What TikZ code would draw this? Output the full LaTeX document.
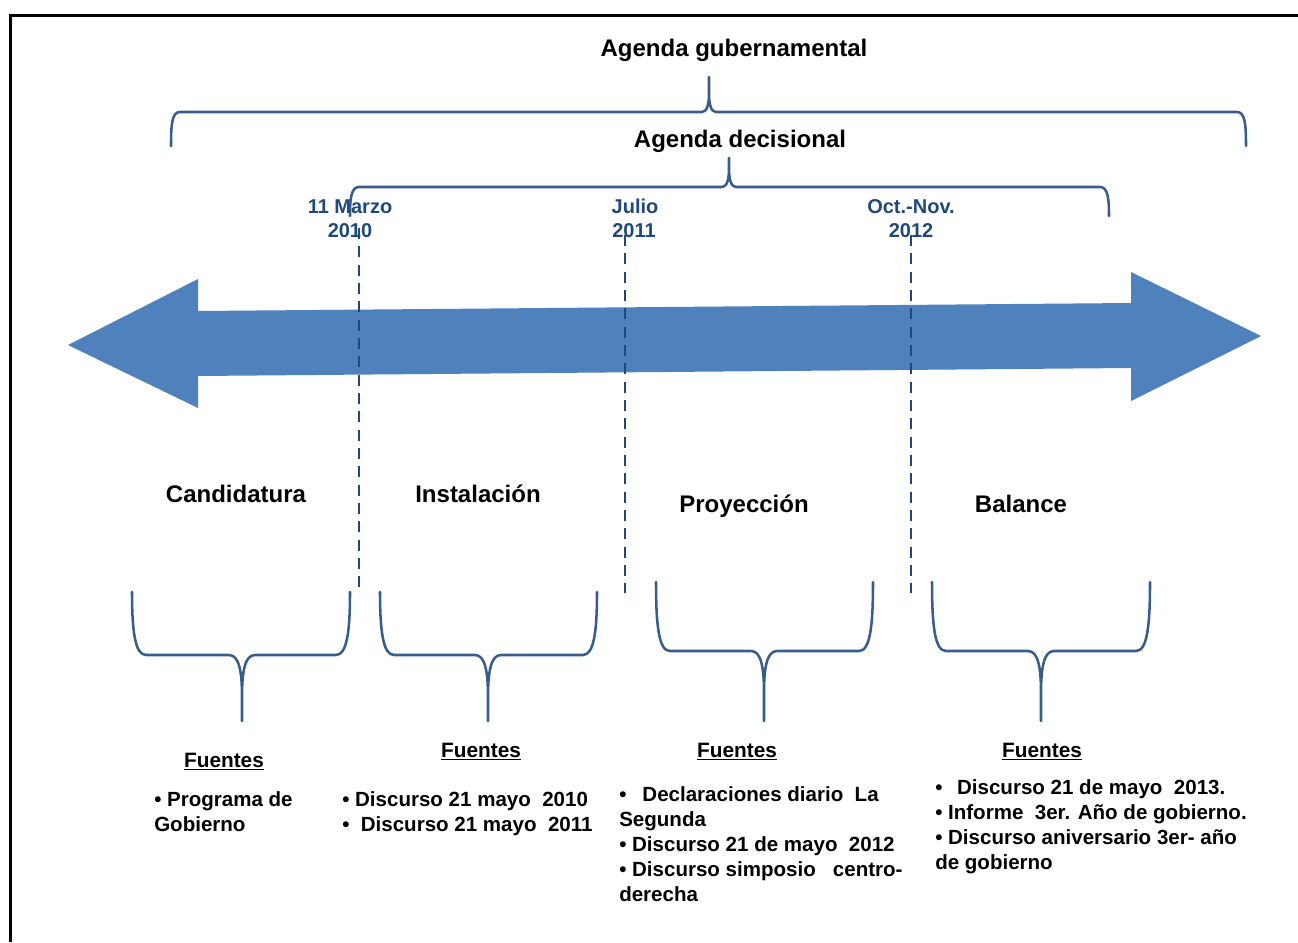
\documentclass[tikz,border=0pt]{standalone}
\usepackage{fontspec}
\setmainfont{Liberation Sans}
\definecolor{arrowcol}{HTML}{4F81BD}
\definecolor{bracecol}{HTML}{385D8A}
\definecolor{datecol}{HTML}{1F497D}
\newcommand\BrDown[6]{%
  \draw[brace] (#1,#3) .. controls (#1,#4-24) and (#1+3,#4) .. (#1+14,#4)
    -- (#5-13,#4) .. controls (#5-3,#4) and (#5,#4+16) .. (#5,#4+42) -- (#5,#6)
    (#5,#4+42) .. controls (#5,#4+16) and (#5+3,#4) .. (#5+13,#4)
    -- (#2-14,#4) .. controls (#2-3,#4) and (#2,#4-24) .. (#2,#3);}
\newcommand\BrUp[6]{%
  \draw[brace] (#1,#3) .. controls (#1,#4+12) and (#1+1,#4) .. (#1+9,#4)
    -- (#5-7,#4) .. controls (#5-2,#4) and (#5,#4-8) .. (#5,#4-18) -- (#5,#6)
    (#5,#4-18) .. controls (#5,#4-8) and (#5+2,#4) .. (#5+7,#4)
    -- (#2-9,#4) .. controls (#2-1,#4) and (#2,#4+12) .. (#2,#3);}
\tikzset{
  brace/.style={draw=bracecol, line width=1.9pt, line join=round, line cap=round},
  vline/.style={draw=datecol, line width=2pt, dash pattern=on 8.25pt off 5.5pt},
  head/.style={font=\fontsize{18}{21}\selectfont\bfseries, inner sep=0pt, anchor=base},
  datelbl/.style={font=\fontsize{15}{18}\selectfont\bfseries, text=datecol, inner sep=0pt, anchor=base},
  phase/.style={font=\fontsize{18}{21}\selectfont\bfseries, inner sep=0pt, anchor=base},
  src/.style={font=\fontsize{15.6}{18}\selectfont\bfseries, inner sep=0pt, anchor=base},
  item/.style={font=\fontsize{15.4}{18}\selectfont\bfseries, inner sep=0pt, anchor=base west},
}
\begin{document}
\begin{tikzpicture}[x=0.75pt,y=-0.75pt]
\useasboundingbox (0,0) rectangle (1298,942);
% frame
\draw[line width=2.25pt] (10.5,942) -- (10.5,15.5) -- (1298,15.5);
% big double arrow
\fill[arrowcol] (68,345) -- (198,279) -- (198,311) -- (1131,303) -- (1131,272)
  -- (1261,336) -- (1131,401) -- (1131,368) -- (198,376) -- (198,408) -- cycle;
% top labels and braces
\node[head] (gub) at (734,57) {Agenda gubernamental};
\BrUp{171}{1246}{146}{112}{709}{77}
\node[head] (dec) at (740,147) {Agenda decisional};
\BrUp{350}{1109}{216}{187}{729}{158}
% date labels
\node[datelbl] (d1a) at (350,213) {11 Marzo};
\node[datelbl] (d1b) at (350,237) {2010};
\node[datelbl] (d2a) at (635,213) {Julio};
\node[datelbl] (d2b) at (634,237) {2011};
\node[datelbl] (d3a) at (911,213) {Oct.-Nov.};
\node[datelbl] (d3b) at (911,237) {2012};
% dashed separators
\coordinate (v1t) at (359,228); \coordinate (v1b) at (359,593);
\coordinate (v2t) at (625,235); \coordinate (v2b) at (625,593);
\coordinate (v3t) at (911,235); \coordinate (v3b) at (911,593);
\draw[vline] (v1t) -- (v1b);
\draw[vline] (v2t) -- (v2b);
\draw[vline] (v3t) -- (v3b);
% phases
\node[phase] (p1) at (236,502) {Candidatura};
\node[phase] (p2) at (478,502) {Instalación};
\node[phase] (p3) at (744,512) {Proyección};
\node[phase] (p4) at (1021,512) {Balance};
% bottom braces
\BrDown{132}{350}{592}{655}{242}{721}
\BrDown{380}{597}{592}{655}{488}{721}
\BrDown{656}{873}{582}{651}{764}{721}
\BrDown{932}{1150}{582}{651}{1041}{721}
% sources
\node[src] (f1) at (224,767) {\underline{Fuentes}};
\node[src] (f2) at (481,757) {\underline{Fuentes}};
\node[src] (f3) at (737,757) {\underline{Fuentes}};
\node[src] (f4) at (1042,757) {\underline{Fuentes}};
\node[item] (a1) at (154,806) {• Programa de};
\node[item] (a2) at (154,831) {Gobierno};
\node[item] (b1) at (342,806) {• Discurso 21 mayo\ \ 2010};
\node[item] (b2) at (342,831) {•\ \ Discurso 21 mayo\ \ 2011};
\node[item] (c1) at (619,801) {•\hspace{12pt}Declaraciones diario\ \ La};
\node[item] (c2) at (619,826) {Segunda};
\node[item] (c3) at (619,851) {• Discurso 21 de mayo\ \ 2012};
\node[item] (c4) at (619,876) {• Discurso simposio\ \ \ centro-};
\node[item] (c5) at (619,901) {derecha};
\node[item] (e1) at (935,794) {•\hspace{11pt}Discurso 21 de mayo\ \ 2013.};
\node[item] (e2) at (935,819) {• Informe\ \ 3er. Año de gobierno.};
\node[item] (e3) at (935,844) {• Discurso aniversario 3er- año};
\node[item] (e4) at (935,869) {de gobierno};
\end{tikzpicture}
\end{document}
